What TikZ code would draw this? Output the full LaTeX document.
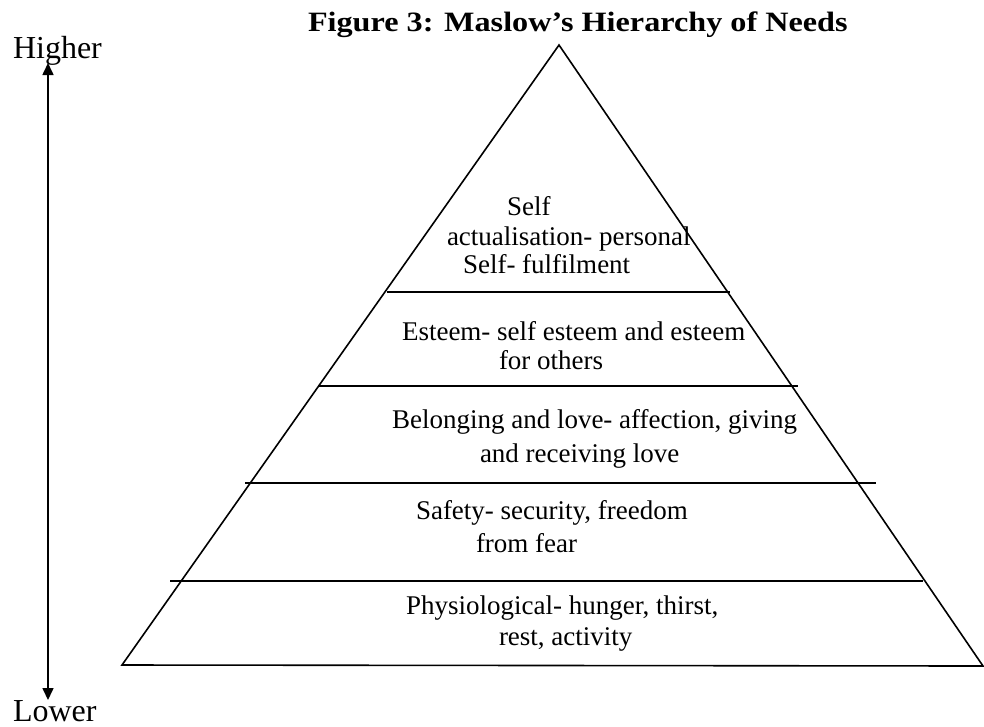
\documentclass[tikz,border=0pt]{standalone}
\usepackage{fontspec}
\usepackage{graphicx}
\setmainfont{Liberation Serif}
\usetikzlibrary{arrows.meta}
\tikzset{
  txt/.style={anchor=base west, inner sep=0pt, outer sep=0pt, font=\fontsize{27}{30}\selectfont},
  side/.style={anchor=base west, inner sep=0pt, outer sep=0pt, font=\fontsize{32}{36}\selectfont},
  ttl/.style={anchor=base west, inner sep=0pt, outer sep=0pt, font=\bfseries\fontsize{28}{32}\selectfont},
  edge/.style={line width=1.6pt, line join=miter},
  tier/.style={line width=1.8pt},
  axis/.style={line width=1.6pt, {Triangle[length=12pt,width=11pt]}-{Triangle[length=12pt,width=11pt]}}
}
\begin{document}
\begin{tikzpicture}[x=1pt, y=-1pt]
\useasboundingbox (0,0) rectangle (984,726);
% title
\node[ttl] (title) at (308,31) {\scalebox{1.15}[1]{Figure 3: Maslow’s Hierarchy of Needs}};
% side labels and axis
\node[side] (higher) at (13,58) {Higher};
\node[side] (lower) at (13,721) {Lower};
\coordinate (atop) at (48,63);
\coordinate (abot) at (48,700);
\draw[axis] (atop) -- (abot);
% pyramid
\coordinate (apex) at (559,45);
\coordinate (bl) at (122,665);
\coordinate (br) at (983,666);
\draw[edge] (apex) -- (bl) -- (br) -- cycle;
% tiers
\coordinate (l1a) at (387,292); \coordinate (l1b) at (730,292);
\coordinate (l2a) at (318,386); \coordinate (l2b) at (798,386);
\coordinate (l3a) at (245,483); \coordinate (l3b) at (876,483);
\coordinate (l4a) at (170,581); \coordinate (l4b) at (923,581);
\draw[tier] (l1a) -- (l1b);
\draw[tier] (l2a) -- (l2b);
\draw[tier] (l3a) -- (l3b);
\draw[tier] (l4a) -- (l4b);
% texts
\node[txt] (s1) at (507,215) {Self};
\node[txt] (s2) at (447,245) {actualisation- personal};
\node[txt] (s3) at (463,273) {Self- fulfilment};
\node[txt] (e1) at (402,340) {Esteem- self esteem and esteem};
\node[txt] (e2) at (499,369) {for others};
\node[txt] (b1) at (392,428) {Belonging and love- affection, giving};
\node[txt] (b2) at (480,462) {and receiving love};
\node[txt] (f1) at (416,519) {Safety- security, freedom};
\node[txt] (f2) at (476,552) {from fear};
\node[txt] (p1) at (406,614) {Physiological- hunger, thirst,};
\node[txt] (p2) at (499,645) {rest, activity};
\end{tikzpicture}
\end{document}
